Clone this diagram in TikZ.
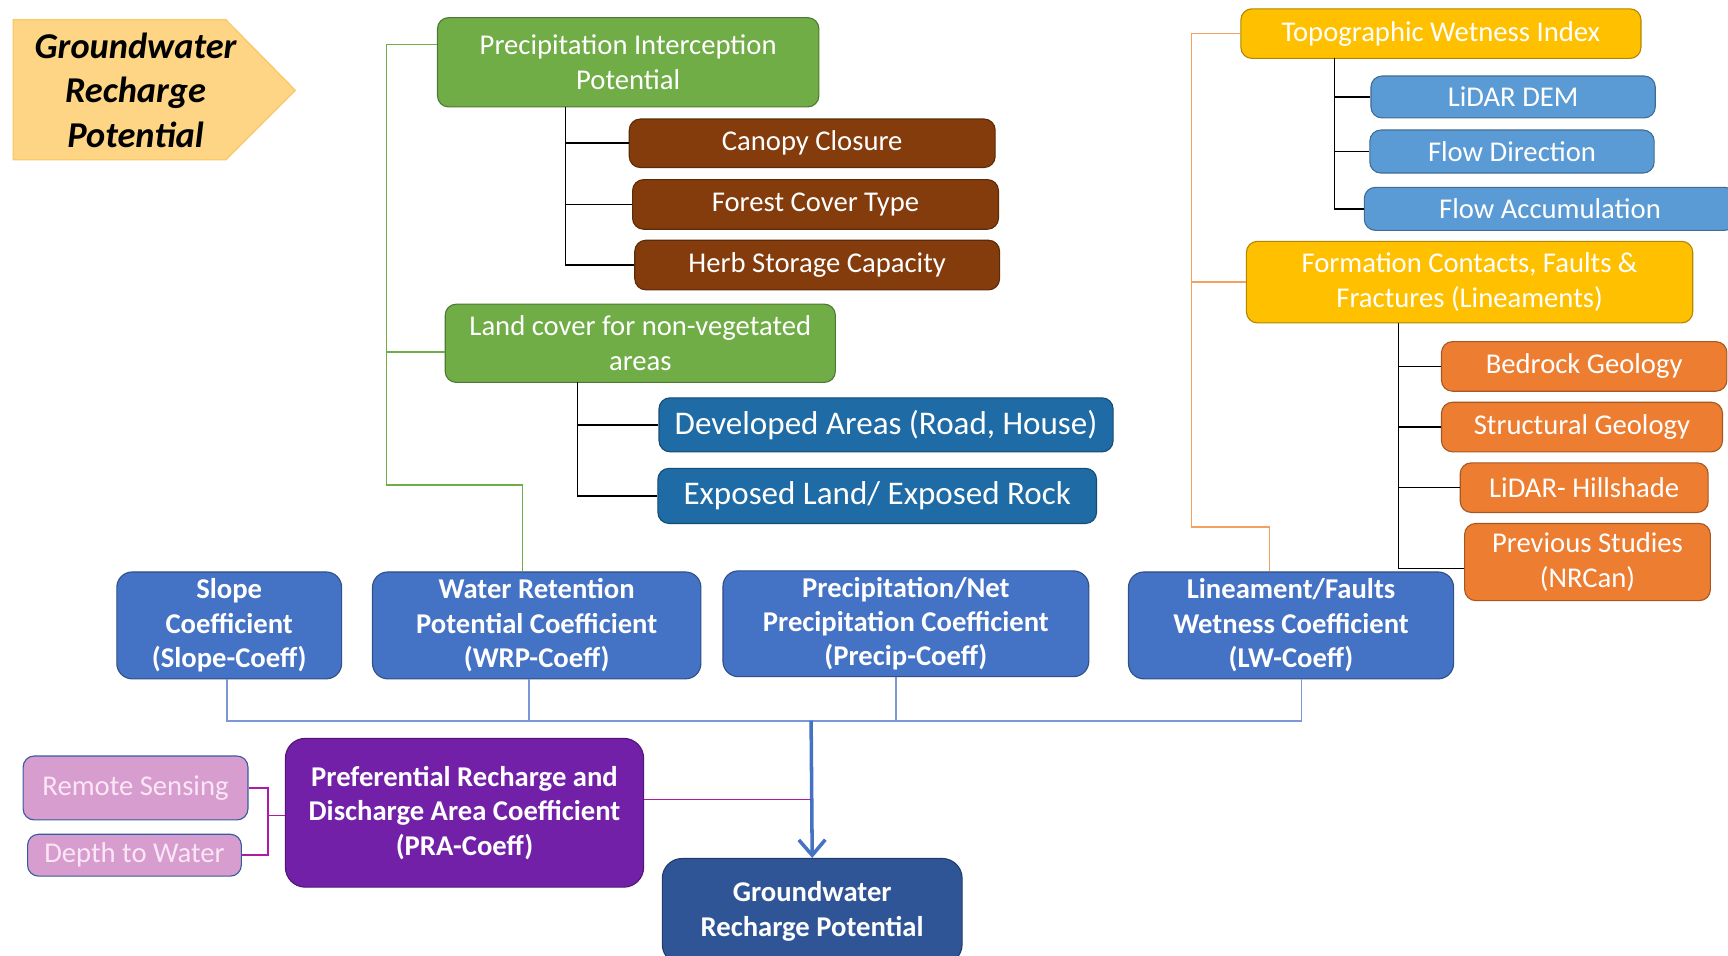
\documentclass[tikz,border=0pt]{standalone}
\usepackage{fontspec}
\setmainfont{Carlito}
\usetikzlibrary{arrows.meta}

\definecolor{cgreen}{HTML}{70AD47}
\definecolor{cbrown}{HTML}{843C0C}
\definecolor{cdeep}{HTML}{1F6BA5}
\definecolor{cgold}{HTML}{FFC000}
\definecolor{csky}{HTML}{5B9BD5}
\definecolor{corange}{HTML}{ED7D31}
\definecolor{ccoef}{HTML}{4472C4}
\definecolor{cpurple}{HTML}{7320A8}
\definecolor{cpink}{HTML}{D79DCF}
\definecolor{cpinktext}{HTML}{FBE6F6}
\definecolor{cnavy}{HTML}{2F5597}
\definecolor{ctitle}{HTML}{FDD584}
\definecolor{ctitleline}{HTML}{F9C96A}
\definecolor{cgline}{HTML}{70AD47}
\definecolor{coline}{HTML}{F4A060}
\definecolor{cbline}{HTML}{7A98D8}
\definecolor{cmline}{HTML}{B01AA8}

\begin{document}
\begin{tikzpicture}[x=0.5pt,y=-0.5pt,
  box/.style={rounded corners=5pt, draw=#1!70!black, fill=#1, text=white,
    align=center, inner sep=0pt, line width=0.5pt,
    font=\fontsize{13}{16}\selectfont},
  bigbox/.style={box=#1, font=\fontsize{15}{18}\selectfont},
  coefbox/.style={box=#1, rounded corners=7pt,
    font=\bfseries\fontsize{13}{15.6}\selectfont},
  tree/.style={draw=black, line width=0.7pt},
  gline/.style={draw=cgline, line width=0.6pt},
  oline/.style={draw=coline, line width=0.7pt},
  bline/.style={draw=cbline, line width=0.7pt},
  pline/.style={draw=cmline, line width=0.8pt}]

  \fill[white] (0,0) rectangle (1568,867);
  \useasboundingbox (0,0) rectangle (1568,867);

  %% Title
  \draw[fill=ctitle, draw=ctitleline, line width=0.6pt]
    (12,18) -- (205,18) -- (268,82) -- (205,145) -- (12,145) -- cycle;
  \node[align=center, font=\bfseries\itshape\fontsize{16.5}{20}\selectfont] (title) at (123,82)
    {Groundwater\\Recharge\\Potential};

  %% Precipitation interception branch
  \node[box=cgreen, minimum width=173pt, minimum height=40.5pt] (pip) at (570,56.5)
    {Precipitation Interception\\Potential};
  \node[box=cbrown, minimum width=166pt, minimum height=22pt] (canopy) at (737,130) {Canopy Closure};
  \node[box=cbrown, minimum width=166pt, minimum height=22.5pt] (forest) at (740,185.5) {Forest Cover Type};
  \node[box=cbrown, minimum width=165.5pt, minimum height=22.5pt] (herb) at (741.5,240.5) {Herb Storage Capacity};

  %% Land cover branch
  \node[box=cgreen, minimum width=177pt, minimum height=35.5pt] (land) at (581,311.5)
    {Land cover for non-vegetated\\areas};
  \node[bigbox=cdeep, minimum width=206pt, minimum height=24.5pt] (devel) at (804,385.5) {Developed Areas (Road, House)};
  \node[bigbox=cdeep, minimum width=199pt, minimum height=25pt] (exposed) at (796,450) {Exposed Land/ Exposed Rock};

  %% Wetness branch
  \node[box=cgold, minimum width=181.5pt, minimum height=22.5pt] (twi) at (1307.5,30.5) {Topographic Wetness Index};
  \node[box=csky, minimum width=129pt, minimum height=19pt] (dem) at (1373,88) {LiDAR DEM};
  \node[box=csky, minimum width=129pt, minimum height=19.5pt] (fdir) at (1372,137.5) {Flow Direction};
  \node[box=csky, minimum width=168.5pt, minimum height=19.5pt] (facc) at (1406.5,189.5) {Flow Accumulation};

  \node[box=cgold, minimum width=202.5pt, minimum height=37pt] (form) at (1333.5,256)
    {Formation Contacts, Faults \&\\Fractures (Lineaments)};
  \node[box=corange, minimum width=129.5pt, minimum height=22.5pt] (bedrock) at (1437.5,332.5) {Bedrock Geology};
  \node[box=corange, minimum width=127.5pt, minimum height=22.5pt] (struct) at (1435.5,387.5) {Structural Geology};
  \node[box=corange, minimum width=112.5pt, minimum height=22.5pt] (hill) at (1437.5,442.5) {LiDAR- Hillshade};
  \node[box=corange, minimum width=111.5pt, minimum height=35pt] (prev) at (1440.5,510) {Previous Studies\\(NRCan)};

  %% Coefficients
  \node[coefbox=ccoef, minimum width=102pt, minimum height=48.5pt] (slope) at (208,567.5)
    {Slope\\Coefficient\\(Slope-Coeff)};
  \node[coefbox=ccoef, minimum width=149pt, minimum height=48.5pt] (wrp) at (487,567.5)
    {Water Retention\\Potential Coefficient\\(WRP-Coeff)};
  \node[coefbox=ccoef, minimum width=166pt, minimum height=48pt] (precip) at (822,566)
    {Precipitation/Net\\Precipitation Coefficient\\(Precip-Coeff)};
  \node[coefbox=ccoef, minimum width=147.5pt, minimum height=48.5pt] (lw) at (1171.5,567.5)
    {Lineament/Faults\\Wetness Coefficient\\(LW-Coeff)};

  \node[coefbox=cpurple, rounded corners=9pt, minimum width=162.5pt, minimum height=67.5pt] (pra) at (421.5,737.5)
    {Preferential Recharge and\\Discharge Area Coefficient\\(PRA-Coeff)};
  \node[box=cpink, draw=ccoef!80!black, text=cpinktext, minimum width=102pt, minimum height=29pt] (rs) at (123,715) {Remote Sensing};
  \node[box=cpink, draw=ccoef!80!black, text=cpinktext, minimum width=97pt, minimum height=19pt] (dtw) at (122,776) {Depth to Water};

  \node[coefbox=cnavy, rounded corners=9pt, minimum width=136pt, minimum height=48pt] (grp) at (737,827)
    {Groundwater\\Recharge Potential};

  %% Black sub-trees
  \coordinate (pipbus) at (513,97);
  \draw[tree] (pipbus) |- (herb.west);
  \draw[tree] (pipbus |- canopy.west) -- (canopy.west);
  \draw[tree] (pipbus |- forest.west) -- (forest.west);

  \coordinate (landbus) at (524,347);
  \draw[tree] (landbus) |- (exposed.west);
  \draw[tree] (landbus |- devel.west) -- (devel.west);

  \coordinate (twibus) at (1211,53);
  \draw[tree] (twibus) |- (facc.west);
  \draw[tree] (twibus |- dem.west) -- (dem.west);
  \draw[tree] (twibus |- fdir.west) -- (fdir.west);

  \coordinate (formbus) at (1269,293);
  \draw[tree] (formbus) |- ([yshift=-3pt]prev.west);
  \draw[tree] (formbus |- bedrock.west) -- (bedrock.west);
  \draw[tree] (formbus |- struct.west) -- (struct.west);
  \draw[tree] (formbus |- hill.west) -- (hill.west);

  %% Coloured links to coefficients
  \coordinate (gcorner) at (351,440);
  \draw[gline] ([yshift=8pt]pip.west) -| (gcorner) -| ([xshift=-6.5pt]wrp.north);
  \draw[gline] ([yshift=-4pt]land.west) -- ([yshift=-4pt]land.west -| gcorner);

  \coordinate (ocorner) at (1081,478);
  \draw[oline] (twi.west) -| (ocorner) -| ([xshift=-9.75pt]lw.north);
  \draw[oline] (form.west) -- (form.west -| ocorner);

  \coordinate (bbus) at (736,654);
  \draw[bline] ([xshift=-1pt]slope.south) |- (bbus) -| ([xshift=4.75pt]lw.south);
  \draw[bline] ([xshift=-3.5pt]wrp.south) -- ([xshift=-3.5pt]wrp.south |- bbus);
  \draw[bline] ([xshift=-4.5pt]precip.south) -- ([xshift=-4.5pt]precip.south |- bbus);
  \draw[ccoef, line width=1.6pt, -{Straight Barb[length=7pt,width=12pt]}] (bbus) -- (grp.north);

  \draw[pline] ([yshift=6pt]pra.east) -- ([yshift=6pt]pra.east -| bbus);
  \coordinate (pbr) at (243,740);
  \draw[pline] (rs.east) -| (pbr |- dtw.east) -- (dtw.east);
  \draw[pline] (pbr) -- (pbr -| pra.west);

\end{tikzpicture}
\end{document}
